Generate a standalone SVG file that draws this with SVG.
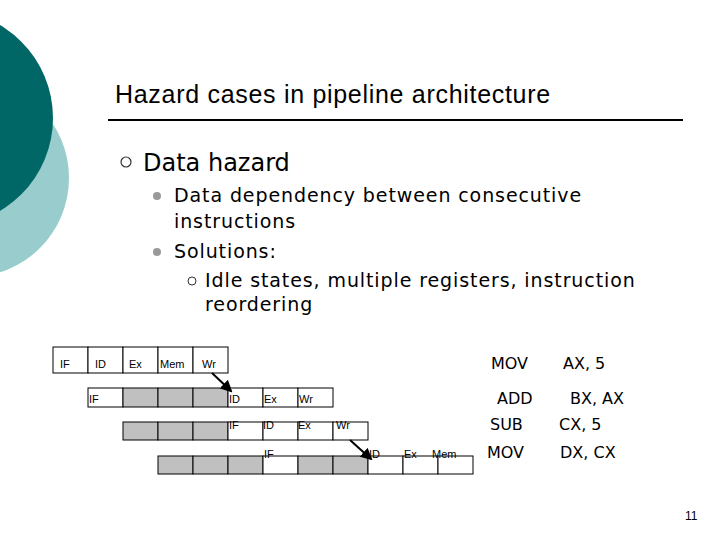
<svg xmlns="http://www.w3.org/2000/svg" width="720" height="540" viewBox="0 0 720 540">
<style>
text{font-family:"Liberation Sans",Arial,sans-serif;fill:#000}
.d{font-family:"DejaVu Sans",sans-serif}
.b{font-family:"DejaVu Sans",sans-serif;font-size:19px;letter-spacing:0.9px}
.c{fill:#fff;stroke:#000;stroke-width:1}
.g{fill:#c0c0c0;stroke:#000;stroke-width:1}
.s{font-size:11px}
.m{font-size:16px;font-family:"DejaVu Sans",sans-serif}
</style>
<defs><marker id="ah" markerWidth="6" markerHeight="6" refX="5" refY="3" orient="auto"><path d="M0,0L6,3L0,6z" fill="#000"/></marker></defs>
<rect width="720" height="540" fill="#fff"/>
<circle cx="-30" cy="178" r="99" fill="#99cccc"/>
<circle cx="-55" cy="118" r="108" fill="#006666"/>
<text x="115" y="103" font-size="25" letter-spacing="0.7">Hazard cases in pipeline architecture</text>
<line x1="108" y1="120" x2="683" y2="120" stroke="#000" stroke-width="2"/>
<circle cx="126" cy="162" r="5" fill="none" stroke="#333" stroke-width="1.2"/>
<text class="d" x="143" y="171" font-size="24">Data hazard</text>
<circle cx="157" cy="196" r="4" fill="#999"/>
<text class="b" x="174" y="202">Data dependency between consecutive</text>
<text class="b" x="174" y="228">instructions</text>
<circle cx="157" cy="252" r="4" fill="#999"/>
<text class="b" x="174" y="258">Solutions:</text>
<circle cx="192" cy="281" r="4" fill="none" stroke="#333"/>
<text class="b" x="205" y="287">Idle states, multiple registers, instruction</text>
<text class="b" x="205" y="311">reordering</text>
<g id="row1">
<rect class="c" x="53" y="347" width="35" height="26"/><rect class="c" x="88" y="347" width="35" height="26"/><rect class="c" x="123" y="347" width="35" height="26"/><rect class="c" x="158" y="347" width="35" height="26"/><rect class="c" x="193" y="347" width="35" height="26"/>
<text class="s" x="60" y="368">IF</text><text class="s" x="95" y="368">ID</text><text class="s" x="129" y="368">Ex</text><text class="s" x="160" y="368">Mem</text><text class="s" x="202" y="368">Wr</text>
</g>
<g id="row2">
<rect class="c" x="88" y="388" width="35" height="19"/><rect class="g" x="123" y="388" width="35" height="19"/><rect class="g" x="158" y="388" width="35" height="19"/><rect class="g" x="193" y="388" width="35" height="19"/><rect class="c" x="228" y="388" width="35" height="19"/><rect class="c" x="263" y="388" width="35" height="19"/><rect class="c" x="298" y="388" width="35" height="19"/>
<text class="s" x="89" y="403">IF</text><text class="s" x="229" y="403">ID</text><text class="s" x="264" y="403">Ex</text><text class="s" x="299" y="403">Wr</text>
</g>
<g id="row3">
<rect class="g" x="123" y="422" width="35" height="18"/><rect class="g" x="158" y="422" width="35" height="18"/><rect class="g" x="193" y="422" width="35" height="18"/><rect class="c" x="228" y="422" width="35" height="18"/><rect class="c" x="263" y="422" width="35" height="18"/><rect class="c" x="298" y="422" width="35" height="18"/><rect class="c" x="333" y="422" width="35" height="18"/>
<text class="s" x="229" y="429">IF</text><text class="s" x="263" y="429">ID</text><text class="s" x="298" y="429">Ex</text><text class="s" x="336" y="429">Wr</text>
</g>
<g id="row4">
<rect class="g" x="158" y="456" width="35" height="18"/><rect class="g" x="193" y="456" width="35" height="18"/><rect class="g" x="228" y="456" width="35" height="18"/><rect class="c" x="263" y="456" width="35" height="18"/><rect class="g" x="298" y="456" width="35" height="18"/><rect class="g" x="333" y="456" width="35" height="18"/><rect class="c" x="368" y="456" width="35" height="18"/><rect class="c" x="403" y="456" width="35" height="18"/><rect class="c" x="438" y="456" width="35" height="18"/>
<text class="s" x="264" y="458">IF</text><text class="s" x="369" y="458">ID</text><text class="s" x="404" y="458">Ex</text><text class="s" x="432" y="458">Mem</text>
</g>
<g id="connectors" stroke="#000" stroke-width="2" marker-end="url(#ah)">
<line x1="212" y1="373" x2="231" y2="391"/>
<line x1="350" y1="440" x2="371" y2="459"/>
</g>
<g id="code">
<text class="m" x="491" y="369">MOV</text><text class="m" x="563" y="369">AX, 5</text>
<text class="m" x="497" y="404">ADD</text><text class="m" x="570" y="404">BX, AX</text>
<text class="m" x="490" y="430">SUB</text><text class="m" x="559" y="430">CX, 5</text>
<text class="m" x="487" y="458">MOV</text><text class="m" x="560" y="458">DX, CX</text>
</g>
<text x="685" y="520" font-size="12">11</text>
</svg>
